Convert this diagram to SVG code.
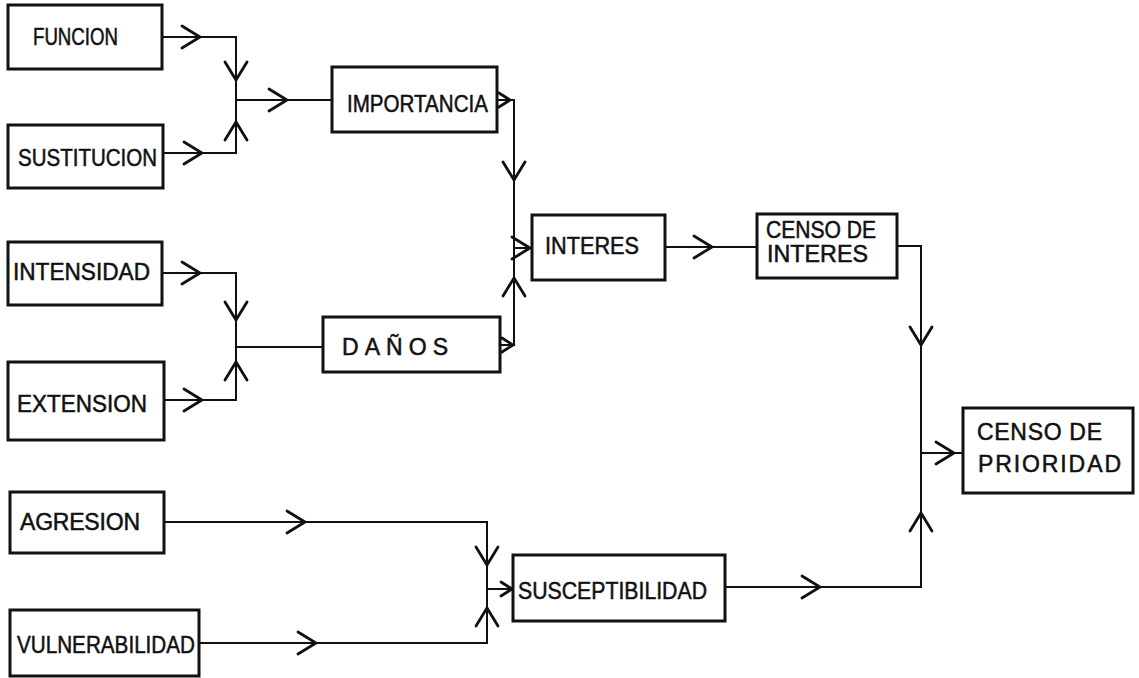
<svg xmlns="http://www.w3.org/2000/svg" xmlns:xlink="http://www.w3.org/1999/xlink" width="1139" height="678" viewBox="0 0 1139 678">
<style>
.box{fill:#fff;stroke:#111;stroke-width:3}
.ln{fill:none;stroke:#111;stroke-width:2}
.chev{fill:none;stroke:#111;stroke-width:2.8;stroke-linecap:round;stroke-linejoin:miter}
.t{font-family:"Liberation Sans",Arial,sans-serif;font-size:23px;fill:#111;stroke:#111;stroke-width:0.5}
</style>
<defs>
<path id="ch" class="chev" d="M-18,-11 L0,0 L-18,11"/>
<path id="chs" class="chev" d="M-11,-7 L0,0 L-11,7"/>
</defs>
<rect width="1139" height="678" fill="#fff"/>
<g id="connectors">
<path class="ln" d="M162,37 H236 V100"/>
<path class="ln" d="M163,153 H236 V100"/>
<path class="ln" d="M236,100 H332"/>
<path class="ln" d="M497,100 H514 V345 H500"/>
<path class="ln" d="M514,248 H532"/>
<path class="ln" d="M162,273 H236 V347"/>
<path class="ln" d="M164,400 H236 V347"/>
<path class="ln" d="M236,347 H323"/>
<path class="ln" d="M665,247 H757"/>
<path class="ln" d="M897,246 H921 V587 H725"/>
<path class="ln" d="M921,453 H963"/>
<path class="ln" d="M164,522 H487 V643 H199"/>
<path class="ln" d="M487,589 H513"/>
<use href="#ch" transform="translate(200,37)"/>
<use href="#ch" transform="translate(236,80) rotate(90)"/>
<use href="#ch" transform="translate(236,122) rotate(-90)"/>
<use href="#ch" transform="translate(287,100)"/>
<use href="#ch" transform="translate(202,153)"/>
<use href="#chs" transform="translate(510,100)"/>
<use href="#ch" transform="translate(514,180) rotate(90)"/>
<use href="#ch" transform="translate(514,278) rotate(-90)"/>
<use href="#ch" transform="translate(530,248)"/>
<use href="#chs" transform="translate(513,345)"/>
<use href="#ch" transform="translate(200,273)"/>
<use href="#ch" transform="translate(236,320) rotate(90)"/>
<use href="#ch" transform="translate(236,362) rotate(-90)"/>
<use href="#ch" transform="translate(202,400)"/>
<use href="#ch" transform="translate(712,247)"/>
<use href="#ch" transform="translate(921,345) rotate(90)"/>
<use href="#ch" transform="translate(954,453)"/>
<use href="#ch" transform="translate(921,513) rotate(-90)"/>
<use href="#ch" transform="translate(820,587)"/>
<use href="#ch" transform="translate(305,522)"/>
<use href="#ch" transform="translate(316,643)"/>
<use href="#ch" transform="translate(487,565) rotate(90)"/>
<use href="#ch" transform="translate(487,608) rotate(-90)"/>
<use href="#chs" transform="translate(512,589)"/>
</g>
<g id="funcion"><rect class="box" x="8" y="5" width="154" height="64"/><text class="t" x="33" y="45" textLength="85" lengthAdjust="spacingAndGlyphs">FUNCION</text></g>
<g id="sustitucion"><rect class="box" x="8" y="125" width="155" height="63"/><text class="t" x="18" y="166" textLength="139" lengthAdjust="spacingAndGlyphs">SUSTITUCION</text></g>
<g id="importancia"><rect class="box" x="332" y="67" width="165" height="65"/><text class="t" x="347" y="112" textLength="141" lengthAdjust="spacingAndGlyphs">IMPORTANCIA</text></g>
<g id="intensidad"><rect class="box" x="8" y="242" width="154" height="63"/><text class="t" x="13" y="280" textLength="137" lengthAdjust="spacingAndGlyphs">INTENSIDAD</text></g>
<g id="extension"><rect class="box" x="8" y="362" width="156" height="78"/><text class="t" x="17" y="412" textLength="130" lengthAdjust="spacingAndGlyphs">EXTENSION</text></g>
<g id="danos"><rect class="box" x="323" y="317" width="177" height="55"/><text class="t" x="342" y="355" textLength="106" lengthAdjust="spacing">DAÑOS</text></g>
<g id="interes"><rect class="box" x="532" y="215" width="133" height="65"/><text class="t" x="545" y="254" textLength="94" lengthAdjust="spacingAndGlyphs">INTERES</text></g>
<g id="censo-interes"><rect class="box" x="757" y="214" width="140" height="64"/><text class="t" x="766" y="238" textLength="110" lengthAdjust="spacingAndGlyphs">CENSO DE</text><text class="t" x="767" y="262" textLength="101" lengthAdjust="spacingAndGlyphs">INTERES</text></g>
<g id="censo-prioridad"><rect class="box" x="963" y="408" width="170" height="85"/><text class="t" x="977" y="440" textLength="125" lengthAdjust="spacing">CENSO DE</text><text class="t" x="978" y="472" textLength="143" lengthAdjust="spacing">PRIORIDAD</text></g>
<g id="agresion"><rect class="box" x="10" y="492" width="154" height="61"/><text class="t" x="20" y="530" textLength="120" lengthAdjust="spacing">AGRESION</text></g>
<g id="vulnerabilidad"><rect class="box" x="10" y="610" width="189" height="66"/><text class="t" x="17" y="653" textLength="178" lengthAdjust="spacingAndGlyphs">VULNERABILIDAD</text></g>
<g id="susceptibilidad"><rect class="box" x="513" y="555" width="212" height="66"/><text class="t" x="518" y="599" textLength="189" lengthAdjust="spacingAndGlyphs">SUSCEPTIBILIDAD</text></g>
</svg>
